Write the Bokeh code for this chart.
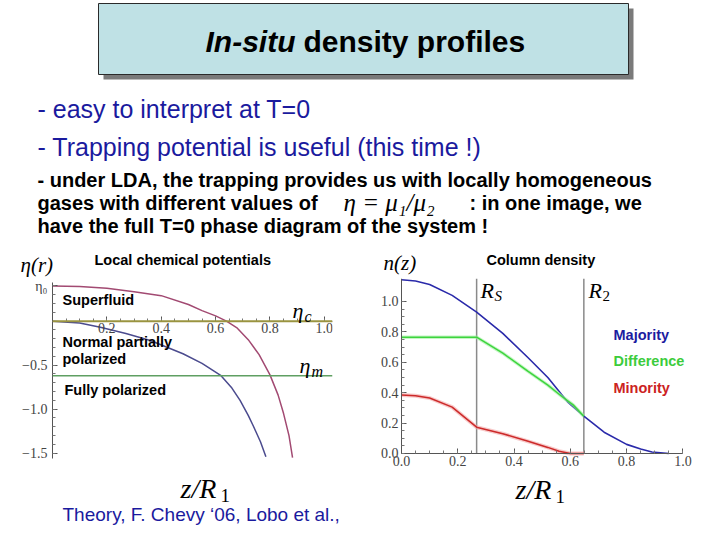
from bokeh.plotting import figure
from bokeh.models import (Range1d, Label, FixedTicker, PrintfTickFormatter,
                          CustomJSTickFormatter, Span)
from bokeh.layouts import column, row
from bokeh.embed import file_html
from bokeh.resources import INLINE

# ---------------- data ----------------
# Left panel: local chemical potentials eta(r) vs z/R1
r_upper = [0.0, 0.1, 0.2, 0.3, 0.4, 0.5, 0.55, 0.6, 0.64, 0.68, 0.72, 0.76, 0.80, 0.83, 0.85, 0.87, 0.883]
eta_upper = [0.40, 0.395, 0.375, 0.335, 0.29, 0.19, 0.12, 0.06, 0.0, -0.08, -0.21, -0.38, -0.61, -0.84, -1.05, -1.30, -1.55]
r_lower = [0.0, 0.1, 0.176, 0.27, 0.36, 0.48, 0.55, 0.59, 0.62, 0.66, 0.69, 0.72, 0.74, 0.765, 0.785]
eta_lower = [0.0, -0.02, -0.07, -0.14, -0.22, -0.37, -0.48, -0.56, -0.62, -0.76, -0.90, -1.07, -1.20, -1.37, -1.54]
eta_c = 0.0
eta_m = -0.62
left_xticks = [0.2, 0.4, 0.6, 0.8, 1.0]
left_yticks = [0.4, -0.5, -1.0, -1.5]

# Right panel: column density n(z) vs z/R1
z_maj = [0.0, 0.05, 0.1, 0.18, 0.267, 0.36, 0.45, 0.52, 0.59, 0.648, 0.72, 0.8, 0.85, 0.89, 0.95]
n_maj = [1.143, 1.135, 1.112, 1.04, 0.93, 0.79, 0.63, 0.50, 0.34, 0.245, 0.14, 0.06, 0.03, 0.01, 0.0]
z_diff = [0.0, 0.267, 0.36, 0.45, 0.52, 0.57, 0.61, 0.648]
n_diff = [0.765, 0.765, 0.66, 0.54, 0.45, 0.375, 0.32, 0.245]
z_min = [0.0, 0.05, 0.1, 0.18, 0.267, 0.36, 0.45, 0.52, 0.56, 0.6, 0.648]
n_min = [0.385, 0.38, 0.365, 0.305, 0.173, 0.13, 0.08, 0.04, 0.015, 0.0, 0.0]
R_S = 0.267
R_2 = 0.648
right_ticks = [0.0, 0.2, 0.4, 0.6, 0.8, 1.0]
N_TOP = 1.151

SANS = "Liberation Sans"
SERIF = "Liberation Serif"
BLUE_TXT = "#1a1a9e"


def blank(width, height, y0, y1):
    f = figure(width=width, height=height, x_range=Range1d(0, width), y_range=Range1d(y1, y0),
               output_backend="svg", toolbar_location=None,
               x_axis_location=None, y_axis_location=None, min_border=0)
    f.grid.visible = False
    f.outline_line_color = None
    f.title.visible = False
    return f


def put(fig, x, y, text, size, color="black", style="normal", font=SANS):
    fig.add_layout(Label(x=x, y=y, text=text, text_font=font, text_font_size=size,
                         text_font_style=style, text_color=color,
                         text_baseline="middle", text_align="left"))


# ---------------- header (slide title + bullets + panel titles) ----------------
hd = blank(720, 278, 0, 278)
hd.quad(left=[103], right=[633], top=[8], bottom=[79], fill_color="#7a7a7a", line_color=None)
hd.quad(left=[98], right=[628], top=[3], bottom=[74], fill_color="#bfe1e5",
        line_color="#2a2a2a", line_width=1)

put(hd, 205, 41, "In-situ", "30px", style="bold italic")
put(hd, 303, 41, "density profiles", "30px", style="bold")
put(hd, 37, 108, "- easy to interpret at T=0", "25px", color=BLUE_TXT)
put(hd, 37, 146, "- Trapping potential is useful (this time !)", "25px", color=BLUE_TXT)
put(hd, 37, 179, "- under LDA, the trapping provides us with locally homogeneous", "20px", style="bold")
put(hd, 37, 202, "gases with different values of", "20px", style="bold")
put(hd, 343, 202, "\u03b7 = \u03bc\u2081/\u03bc\u2082", "25px", style="italic", font=SERIF)
put(hd, 469, 202, ": in one image, we", "20px", style="bold")
put(hd, 37, 225, "have the full T=0 phase diagram of the system !", "20px", style="bold")

put(hd, 94, 259, "Local chemical potentials", "14.5px", style="bold")
put(hd, 20, 264, "\u03b7(r)", "21px", style="italic", font=SERIF)
put(hd, 486, 259, "Column density", "14.5px", style="bold")
put(hd, 383, 262, "n(z)", "21px", style="italic", font=SERIF)


def style_axis(ax):
    ax.axis_line_color = "#555555"
    ax.major_tick_line_color = "#555555"
    ax.minor_tick_line_color = "#777777"
    ax.major_tick_in = 5
    ax.major_tick_out = 0
    ax.minor_tick_in = 3
    ax.minor_tick_out = 0
    ax.major_label_text_font = SERIF
    ax.major_label_text_font_size = "14px"
    ax.major_label_text_color = "#444444"


# Both panels: frame from y=278 to y=472 on the page, x axes pinned at value 0.
# ---------------- left panel ----------------
pl = figure(width=360, height=194, x_range=Range1d(0, 1.03), y_range=Range1d(-1.7195, 0.485),
            output_backend="svg", toolbar_location=None,
            min_border_left=52, min_border_right=28, min_border_top=0, min_border_bottom=0)
pl.grid.visible = False
pl.outline_line_color = None
pl.title.visible = False

pl.add_layout(Span(location=eta_c, dimension="width", line_color="#9a9440", line_width=2))
pl.add_layout(Span(location=eta_m, dimension="width", line_color="#5f9f62", line_width=1.6))
pl.line(r_upper, eta_upper, line_color="#a24a72", line_width=1.5)
pl.line(r_lower, eta_lower, line_color="#4b4b8e", line_width=1.5)

style_axis(pl.xaxis[0])
style_axis(pl.yaxis[0])
pl.xaxis.fixed_location = 0
pl.xaxis.ticker = FixedTicker(ticks=left_xticks,
                              minor_ticks=[round(0.05 * k, 2) for k in range(1, 21)])
pl.xaxis.formatter = PrintfTickFormatter(format="%.1f")
pl.xaxis.major_label_standoff = 2
pl.yaxis.bounds = (-1.56, 0.44)
pl.yaxis.ticker = FixedTicker(ticks=left_yticks,
                              minor_ticks=[round(-1.5 + 0.1 * k, 2) for k in range(0, 20)])
pl.yaxis.formatter = CustomJSTickFormatter(code="""
    if (Math.abs(tick - 0.4) < 1e-6) { return "\u03b7\u2080"; }
    return (tick < 0 ? "\u2212" : "") + Math.abs(tick).toFixed(1);
""")
pl.yaxis.major_label_standoff = 5


def L(sx, sy):
    return (sx - 52) / 271.8, (320.7 - sy) / 88.0


def llabel(sx, sy, text, size, color="black", style="bold", font=SANS):
    x, y = L(sx, sy)
    put(pl, x, y, text, size, color=color, style=style, font=font)


llabel(62, 300, "Superfluid", "14.5px")
llabel(62, 342, "Normal partially", "14.5px")
llabel(62, 359, "polarized", "14.5px")
llabel(64, 390, "Fully polarized", "14.5px")
llabel(292, 310, "\u03b7", "22px", style="italic", font=SERIF)
llabel(304, 316, "c", "16px", style="italic", font=SERIF)
llabel(299, 365, "\u03b7", "22px", style="italic", font=SERIF)
llabel(311, 371, "m", "16px", style="italic", font=SERIF)

# ---------------- right panel ----------------
# frame spans page x 380..697 so the axis labels (pinned at 0) stay inside it
pr = figure(width=360, height=194, x_range=Range1d(-0.0746, 1.0519), y_range=Range1d(-0.125, N_TOP),
            output_backend="svg", toolbar_location=None,
            min_border_left=20, min_border_right=23, min_border_top=0, min_border_bottom=0)
pr.grid.visible = False
pr.outline_line_color = None
pr.title.visible = False

pr.segment(x0=[R_S, R_2], y0=[0, 0], x1=[R_S, R_2], y1=[N_TOP, N_TOP],
           line_color="#8a8a8a", line_width=1.5)
pr.line(z_min, n_min, line_color="#f4a8a8", line_width=4, line_alpha=0.6)
pr.line(z_min, n_min, line_color="#cc2a2a", line_width=1.5)
pr.line(z_maj, n_maj, line_color="#2a2aaa", line_width=1.6)
pr.line(z_diff, n_diff, line_color="#9ef09e", line_width=3.5, line_alpha=0.6)
pr.line(z_diff, n_diff, line_color="#3ed43e", line_width=1.5)

for ax in (pr.xaxis[0], pr.yaxis[0]):
    style_axis(ax)
    ax.ticker = FixedTicker(ticks=right_ticks,
                            minor_ticks=[round(0.05 * k, 2) for k in range(0, 21)])
    ax.formatter = PrintfTickFormatter(format="%.1f")
    ax.major_label_standoff = 3
pr.xaxis.fixed_location = 0
pr.yaxis.fixed_location = 0
pr.xaxis.bounds = (0, 1.0)
pr.yaxis.bounds = (0, N_TOP)


def R(sx, sy):
    return (sx - 401) / 281.4, (453 - sy) / 152.0


def rlabel(sx, sy, text, size, color="black", style="bold", font=SANS):
    x, y = R(sx, sy)
    put(pr, x, y, text, size, color=color, style=style, font=font)


rlabel(480, 290, "R", "22px", style="italic", font=SERIF)
rlabel(494, 296, "S", "15px", style="italic", font=SERIF)
rlabel(588, 290, "R", "22px", style="italic", font=SERIF)
rlabel(602, 296, "2", "15px", style="normal", font=SERIF)
rlabel(613, 335, "Majority", "14.5px", color="#1c1ca0")
rlabel(613, 361, "Difference", "14.5px", color="#3ccc3c")
rlabel(613, 388, "Minority", "14.5px", color="#cc2222")

# ---------------- footer (axis titles + reference) ----------------
ft = blank(720, 68, 472, 540)
put(ft, 180, 488, "z/R", "28px", style="italic", font=SERIF)
put(ft, 220, 495, "1", "19px", font=SERIF)
put(ft, 515, 489, "z/R", "28px", style="italic", font=SERIF)
put(ft, 555, 496, "1", "19px", font=SERIF)
put(ft, 62, 514, "Theory, F. Chevy \u201806, Lobo et al.,", "19px", color=BLUE_TXT)

layout = column(hd, row(pl, pr), ft)

with open("out.html", "w") as f:
    f.write(file_html(layout, INLINE))
